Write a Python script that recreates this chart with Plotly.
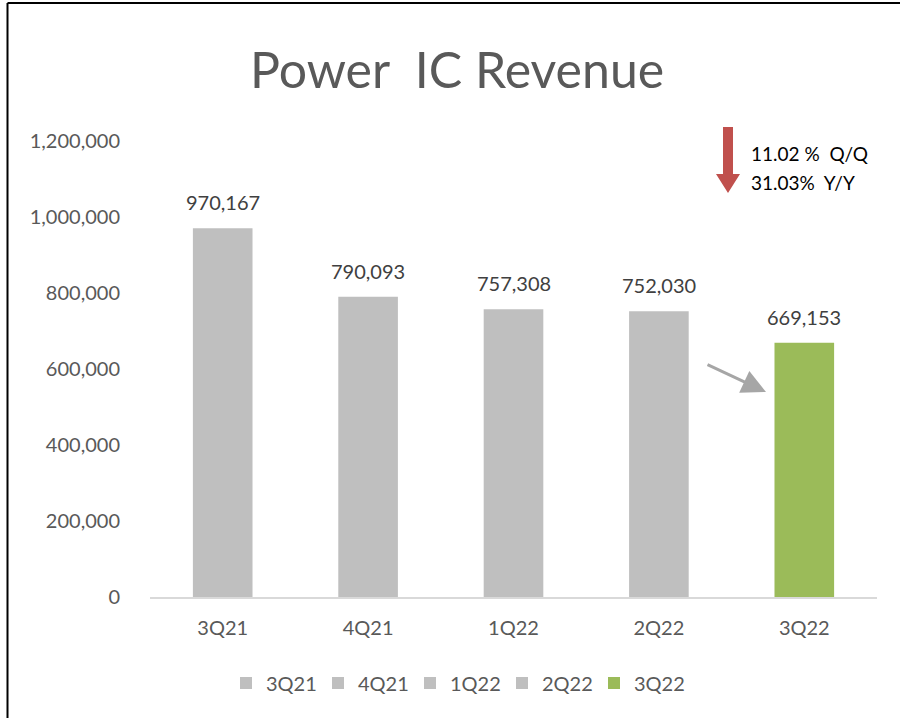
import plotly.graph_objects as go

categories = ["3Q21", "4Q21", "1Q22", "2Q22", "3Q22"]
revenue = [970167, 790093, 757308, 752030, 669153]
bar_colors = ["#BFBFBF", "#BFBFBF", "#BFBFBF", "#BFBFBF", "#9BBB59"]
y_ticks = [0, 200000, 400000, 600000, 800000, 1000000, 1200000]
title_text = "Power  IC Revenue"
change_lines = ["11.02 %  Q/Q", "31.03%  Y/Y"]

W, H = 900, 718
L, R, T, B = 150, 23, 141, 121
PW, PH = W - L - R, H - T - B

def px(x):
    return (x - L) / PW

def py(y):
    return (H - B - y) / PH

FONT = "Lato, 'Open Sans', sans-serif"

fig = go.Figure()
for cat, val, col in zip(categories, revenue, bar_colors):
    fig.add_trace(go.Bar(
        x=[cat], y=[val], name=cat, width=0.41,
        marker=dict(color=col, line=dict(width=0)),
    ))

shapes = []
shapes.append(dict(type="line", xref="paper", yref="paper",
                   x0=px(7.5), x1=px(900), y0=py(3), y1=py(3),
                   line=dict(color="black", width=2)))
shapes.append(dict(type="line", xref="paper", yref="paper",
                   x0=px(7.5), x1=px(7.5), y0=py(3), y1=py(718),
                   line=dict(color="black", width=2)))
pts = [(723, 127), (733, 127), (733, 174), (740, 174), (728, 193), (716, 174), (723, 174)]
path = "M " + " L ".join(f"{px(a):.5f},{py(b):.5f}" for a, b in pts) + " Z"
shapes.append(dict(type="path", xref="paper", yref="paper", path=path,
                   fillcolor="#C0504D", line=dict(width=0)))

annotations = [
    dict(text=title_text, xref="paper", yref="paper", x=px(457), y=py(69),
         xanchor="center", yanchor="middle", showarrow=False,
         font=dict(size=50, color="#595959", family=FONT)),
    dict(text=change_lines[0], xref="paper", yref="paper", x=px(749), y=py(153),
         xanchor="left", yanchor="middle", showarrow=False,
         font=dict(size=19, color="black", family=FONT)),
    dict(text=change_lines[1], xref="paper", yref="paper", x=px(749), y=py(182),
         xanchor="left", yanchor="middle", showarrow=False,
         font=dict(size=19, color="black", family=FONT)),
    dict(text="", xref="paper", yref="paper", x=px(766), y=py(392),
         ax=-60, ay=-28, showarrow=True, arrowhead=2, arrowsize=1.6,
         arrowwidth=3, arrowcolor="#A6A6A6"),
]
for cat, val in zip(categories, revenue):
    annotations.append(dict(text=f"{val:,}", x=cat, y=val, xref="x", yref="y",
                            xanchor="center", yanchor="bottom", yshift=12,
                            showarrow=False,
                            font=dict(size=20, color="#404040", family=FONT)))

fig.update_layout(
    width=W, height=H,
    margin=dict(l=L, r=R, t=T, b=B),
    paper_bgcolor="white", plot_bgcolor="white",
    barmode="overlay",
    showlegend=True,
    legend=dict(orientation="h", x=px(456), y=py(683), xanchor="center", yanchor="middle",
                font=dict(size=20, color="#595959", family=FONT),
                itemwidth=30, tracegroupgap=0, entrywidth=47, entrywidthmode="pixels"),
    xaxis=dict(categoryorder="array", categoryarray=categories,
               showline=True, linecolor="#D9D9D9", linewidth=2,
               ticks="", ticklabelstandoff=12,
               tickfont=dict(size=20, color="#595959", family=FONT),
               showgrid=False, zeroline=False),
    yaxis=dict(range=[0, 1200000], tickvals=y_ticks,
               ticktext=[f"{v:,}" for v in y_ticks],
               showgrid=False, zeroline=False, showline=False, ticks="",
               ticklabelstandoff=29,
               tickfont=dict(size=20, color="#595959", family=FONT)),
    shapes=shapes,
    annotations=annotations,
    hovermode=False,
)

fig.write_html(
    "out.html",
    config={"displayModeBar": False, "staticPlot": True},
    post_script="document.body.style.margin='0px';document.body.style.overflow='hidden';"
                "document.documentElement.style.overflow='hidden';",
)
